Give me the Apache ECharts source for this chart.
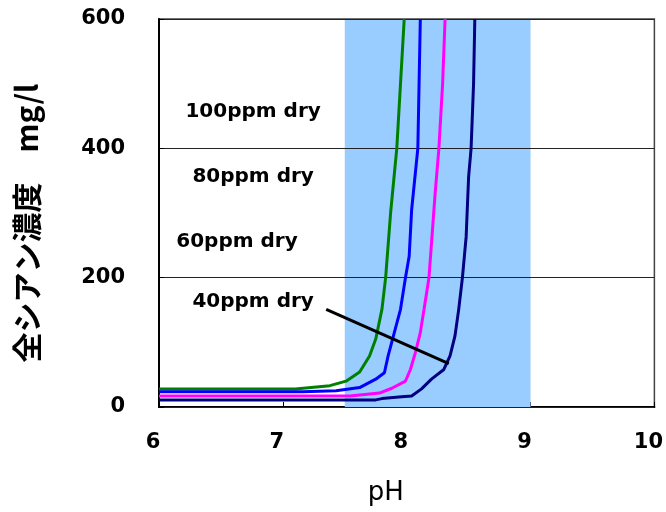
<!DOCTYPE html>
<html><head><meta charset="utf-8">
<script src="https://cdn.jsdelivr.net/npm/echarts@6/dist/echarts.min.js"></script>
<style>html,body{margin:0;padding:0;background:#fff}#c{width:666px;height:512px}</style>
</head><body><div id="c"></div>
<script>
var xTicks = [6, 7, 8, 9, 10];
var yTicks = [0, 200, 400, 600];
var ppm100 = [[6,28],[7.1,28],[7.38,33],[7.51,40],[7.62,54],[7.70,79],[7.75,105],[7.80,151],[7.83,200],[7.87,300],[7.92,400],[7.95,500],[7.98,600]];
var ppm80 = [[6,23.5],[7.16,23.5],[7.43,25],[7.62,30],[7.75,43],[7.82,53],[7.85,79],[7.90,115],[7.95,151],[7.99,200],[8.02,233],[8.04,305],[8.09,400],[8.10,500],[8.11,600]];
var ppm60 = [[6,17],[7.54,17],[7.78,21.5],[7.88,29],[7.99,40],[8.03,58],[8.07,84],[8.11,115],[8.14,151],[8.18,200],[8.23,331],[8.26,400],[8.29,500],[8.31,600]];
var ppm40 = [[6,11],[7.75,11],[7.80,13],[7.96,16],[8.04,17],[8.12,28],[8.20,43],[8.30,58],[8.35,79],[8.39,110],[8.42,151],[8.45,200],[8.48,263],[8.50,356],[8.52,400],[8.54,500],[8.55,600]];
var bandRange = [7.5, 9];
var labelTexts = ['100ppm dry', '80ppm dry', '60ppm dry', '40ppm dry'];
var labelPos = [[6.76,456],[6.76,356],[6.63,256],[6.76,163]];
var pointerLine = [[7.35,151],[8.34,67]];

var chart = echarts.init(document.getElementById('c'), null, {renderer:'canvas'});
function curve(name, data, color){
  return {type:'line', name:name, data:data, showSymbol:false, symbol:'none', smooth:false, z:4,
    lineStyle:{color:color, width:3}, itemStyle:{color:color}};
}
chart.setOption({
  animation:false,
  grid:{left:159, right:8, top:19, bottom:105, show:true, borderColor:'#444', borderWidth:1.5, backgroundColor:'transparent'},
  xAxis:{type:'value', min:6, max:10, interval:1,
    axisLine:{lineStyle:{color:'#000', width:2}},
    axisTick:{inside:true, length:5, lineStyle:{color:'#000', width:1}},
    splitLine:{show:false},
    axisLabel:{fontFamily:'DejaVu Sans', fontWeight:'bold', fontSize:21, color:'#000', margin:25, padding:[0,12,0,0]},
    name:'pH', nameLocation:'middle', nameGap:73,
    nameTextStyle:{fontFamily:'DejaVu Sans', fontSize:26, color:'#000', padding:[0,42,0,0]}
  },
  yAxis:{type:'value', min:0, max:600, interval:200, z:3,
    axisLine:{lineStyle:{color:'#000', width:2}},
    axisTick:{inside:true, length:5, lineStyle:{color:'#000', width:1}},
    splitLine:{show:true, lineStyle:{color:'#222', width:1}},
    axisLabel:{fontFamily:'DejaVu Sans', fontWeight:'bold', fontSize:21, color:'#000', margin:34},
    name:'全シアン濃度　mg/l', nameLocation:'middle', nameGap:117, nameRotate:90,
    nameTextStyle:{fontFamily:'Noto Sans CJK JP', fontWeight:'bold', fontSize:30, color:'#000', padding:[0,20,0,0]}
  },
  series:[
    {type:'line', data:[], z:1, silent:true,
      markArea:{silent:true, itemStyle:{color:'#99CCFF', opacity:1}, data:[[{xAxis:bandRange[0]},{xAxis:bandRange[1]}]]}},
    curve('100ppm', ppm100, '#008000'),
    curve('80ppm', ppm80, '#0000FF'),
    curve('60ppm', ppm60, '#FF00FF'),
    curve('40ppm', ppm40, '#000080'),
    {type:'line', data:pointerLine, symbol:'none', z:5, lineStyle:{color:'#000', width:3}},
    {type:'scatter', symbolSize:0, z:6, itemStyle:{opacity:1, color:'#000'},
      data:labelPos.map(function(p,i){return {value:p, name:labelTexts[i]};}),
      label:{show:true, position:'inside', formatter:function(p){return p.name;},
        fontFamily:'DejaVu Sans', fontWeight:'bold', fontSize:20, color:'#000', opacity:1}}
  ]
});
</script></body></html>
